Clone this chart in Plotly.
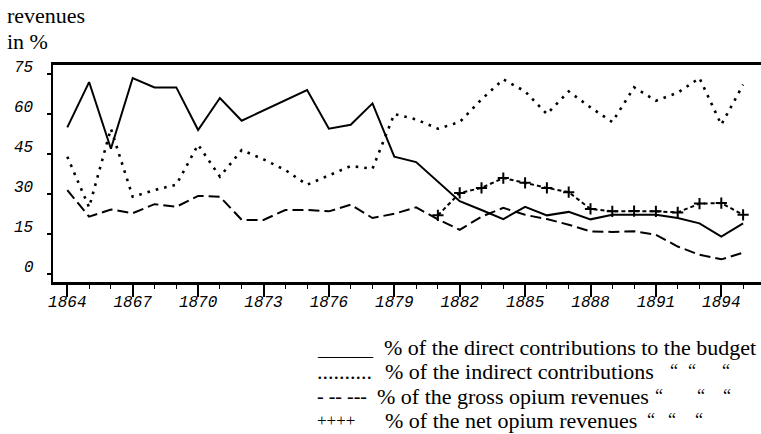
import plotly.graph_objects as go

# ---------------- data ----------------
years = list(range(1864, 1896))

direct_pct = [55, 72, 47, 73.5, 70, 70, 54, 66, 57.5, None, None, 69, 54.5, 56, 64,
              44, 42, None, 27.3, 24, 20.6, 25.2, 22, 23.3, 20.5, 22.2, 22.2, 22.2,
              21, 19, 14, 19]

indirect_pct = [44, 25, 54.5, 29, 31.5, 33.5, 48.5, 36.5, 46.5, 43, 39, 33.5, 37, 40.5,
                39.5, 60, 58, 54.5, 57, 65.5, 73, 68.5, 60, 68.5, 62.5, 57, 70, 65,
                68, 73.5, 56, 71]

gross_opium_pct = [31.5, 21.5, 24.2, 22.8, 26.2, 25.2, 29.3, 29, 20.3, 20.3, 24, 24,
                   23.5, 26, 21, 22.6, 25, 20.5, 16.6, 21.5, 24.8, 22.2, 20.6, 18.5,
                   16, 15.8, 16, 14.7, 10.3, 7.2, 5.5, 8]

net_opium_pct = [None] * 17 + [22, 30.4, 32.3, 36, 34.2, 32.3, 30.7, 24.4, 23.5, 23.6,
                               23.5, 23.1, 26.4, 26.6, 22.2]

x_tick_years = list(range(1864, 1895, 3))
y_tick_vals = [0, 15, 30, 45, 60, 75]

legend_keys = ["_____", "..........", "- -- ---", "++++"]
legend_texts = ["% of the direct contributions to the budget",
                "% of the indirect contributions",
                "% of the gross opium revenues",
                "% of the net opium revenues"]
ditto = "\u201c"

# ---------------- figure ----------------
W, H = 761, 434
L, R, T, B = 53, 0, 65, 152
PW, PH = W - L - R, H - T - B

def px(x):
    return (x - L) / PW

def py(y):
    return (H - B - y) / PH

fig = go.Figure()

fig.add_trace(go.Scatter(x=years, y=direct_pct, mode="lines", connectgaps=True,
                         line=dict(color="black", width=2), name="direct"))
fig.add_trace(go.Scatter(x=years, y=indirect_pct, mode="lines", connectgaps=True,
                         line=dict(color="black", width=2.6, dash="2.6px,6px"),
                         name="indirect"))
fig.add_trace(go.Scatter(x=years, y=gross_opium_pct, mode="lines", connectgaps=True,
                         line=dict(color="black", width=2, dash="11px,5px"),
                         name="gross opium"))
fig.add_trace(go.Scatter(x=years, y=net_opium_pct, mode="lines+markers",
                         line=dict(color="black", width=2, dash="4px,3px"),
                         marker=dict(symbol="cross-thin-open", size=8,
                                     line=dict(color="black", width=2)),
                         name="net opium"))

tick_font = dict(family="Liberation Mono", size=16, color="black", style="italic")
x0 = 1864 - (67.3 - L) / 21.8

fig.update_xaxes(range=[x0, x0 + PW / 21.8], automargin=False,
                 tickmode="array", tickvals=x_tick_years,
                 ticktext=[str(v) for v in x_tick_years],
                 ticks="outside", ticklen=12, tickwidth=1.5, tickcolor="black",
                 ticklabelstandoff=-9,
                 minor=dict(tickmode="linear", tick0=1864, dtick=1, ticks="outside",
                            ticklen=4, tickwidth=1.2, tickcolor="black", showgrid=False),
                 showline=True, linecolor="black", linewidth=2.5, mirror=True,
                 showgrid=False, zeroline=False, tickfont=tick_font)
fig.update_yaxes(range=[-3, 78.4], automargin=False,
                 tickmode="array", tickvals=y_tick_vals, showticklabels=False,
                 ticks="outside", ticklen=4, tickwidth=1.5, tickcolor="black",
                 showline=True, linecolor="black", linewidth=2, mirror=False,
                 showgrid=False, zeroline=False)

serif = dict(family="Liberation Serif", color="black")
ann = []
# y tick labels, placed through the y scale (sitting slightly above their ticks)
for v in y_tick_vals:
    ann.append(dict(text=str(v), x=px(36), y=v, xref="paper", yref="y",
                    xanchor="right", yanchor="middle", yshift=6, showarrow=False,
                    font=tick_font))

ann.append(dict(text="revenues", x=px(5), y=py(15), xref="paper", yref="paper",
                xanchor="left", yanchor="middle", showarrow=False,
                font=dict(size=22, **serif)))
ann.append(dict(text="in %", x=px(5), y=py(41), xref="paper", yref="paper",
                xanchor="left", yanchor="middle", showarrow=False,
                font=dict(size=22, **serif)))

row_y = [347, 371, 396, 420]
key_x = 315
key_size = [22, 22, 20, 17]
text_x = [382, 383, 375, 383]
quote_x = [[], [668, 686, 720], [653, 695, 721], [645, 666, 693]]
for i in range(4):
    ann.append(dict(text=legend_keys[i], x=px(key_x), y=py(row_y[i]), xref="paper",
                    yref="paper", xanchor="left", yanchor="middle", showarrow=False,
                    font=dict(size=key_size[i], **serif)))
    ann.append(dict(text=legend_texts[i], x=px(text_x[i]), y=py(row_y[i]), xref="paper",
                    yref="paper", xanchor="left", yanchor="middle", showarrow=False,
                    font=dict(size=22, **serif)))
    for qx in quote_x[i]:
        ann.append(dict(text=ditto, x=px(qx), y=py(row_y[i]), xref="paper",
                        yref="paper", xanchor="left", yanchor="middle", showarrow=False,
                        font=dict(size=18, **serif)))

fig.update_layout(width=W, height=H, margin=dict(l=L, r=R, t=T, b=B),
                  paper_bgcolor="white", plot_bgcolor="white", showlegend=False,
                  annotations=ann)

fig.write_html("out.html", config={"displayModeBar": False},
               post_script="document.body.style.margin='0px';"
                           "document.documentElement.style.margin='0px';")
